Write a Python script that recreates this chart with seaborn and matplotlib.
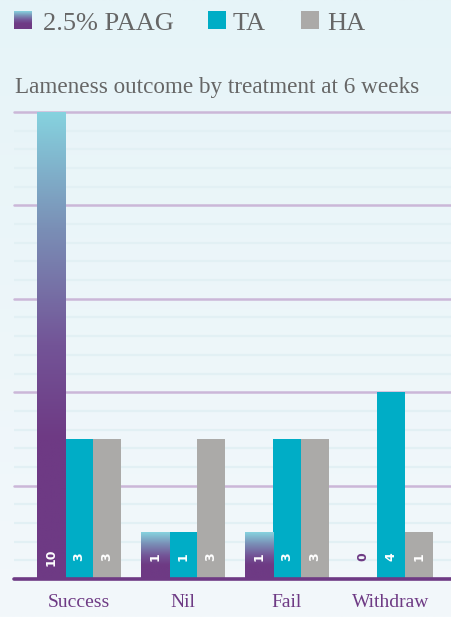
import numpy as np
import pandas as pd
import matplotlib
matplotlib.use('Agg')
import matplotlib.pyplot as plt
from matplotlib.colors import LinearSegmentedColormap
from matplotlib.patches import Rectangle
import seaborn as sns

# --- data ---
categories = ['Success', 'Nil', 'Fail', 'Withdraw']
treatments = ['2.5% PAAG', 'TA', 'HA']
paag = [10, 1, 1, 0]
ta = [3, 1, 3, 4]
ha = [3, 3, 3, 1]

df = pd.DataFrame({
    'outcome': categories * 3,
    'treatment': [t for t in treatments for _ in categories],
    'count': paag + ta + ha,
})

# --- colours ---
PURPLE = '#6e3a84'
CYAN = '#00adc6'
GREY = '#abaaa8'
TEXT_GREY = '#666666'
palette = {'2.5% PAAG': PURPLE, 'TA': CYAN, 'HA': GREY}
grad_cmap = LinearSegmentedColormap.from_list(
    'paag', [(0.0, PURPLE), (0.3, PURPLE), (0.5, '#735497'),
             (0.75, '#7a8fb6'), (1.0, '#86d3df')])

sns.set_theme(style='white')
plt.rcParams['font.family'] = ['Liberation Serif', 'DejaVu Serif']

W, H = 451, 617
fig = plt.figure(figsize=(W / 100, H / 100), dpi=100)

# background gradient
bg = fig.add_axes([0, 0, 1, 1], zorder=-10)
bg_grad = np.linspace(0, 1, 256).reshape(-1, 1)
bg_cmap = LinearSegmentedColormap.from_list('bg', ['#f3f8fb', '#e6f4f8'])
bg.imshow(bg_grad, cmap=bg_cmap, aspect='auto', origin='lower', extent=[0, 1, 0, 1])
bg.axis('off')

# main axes
ax = fig.add_axes([14 / W, 38 / H, 437 / W, 467 / H])
ax.patch.set_alpha(0)
sns.barplot(data=df, x='outcome', y='count', hue='treatment', palette=palette,
            width=0.81, saturation=1, legend=False, ax=ax, zorder=2,
            linewidth=0, edgecolor='none')

# gradient fill for PAAG bars
vgrad = np.linspace(0, 1, 256).reshape(-1, 1)
for bar in ax.containers[0]:
    h = bar.get_height()
    if h > 0:
        x0 = bar.get_x()
        ax.imshow(vgrad, cmap=grad_cmap, aspect='auto', origin='lower',
                  extent=[x0, x0 + bar.get_width(), 0, h], zorder=2)
    bar.set_visible(False)

# gridlines
for yv in np.arange(0.4, 10.01, 0.4):
    if abs(yv / 2 - round(yv / 2)) < 1e-6:
        continue
    ax.axhline(yv, color='#e2f0f4', lw=1.6, zorder=0)
for yv in [2, 4, 6, 8, 10]:
    ax.axhline(yv, color='#cbb7d8', lw=1.8, zorder=0, clip_on=False)
ax.axhline(0, color=PURPLE, lw=2.6, zorder=4, clip_on=False)

# value labels
for cont, vals in zip(ax.containers, [paag, ta, ha]):
    for bar, v in zip(cont, vals):
        cx = bar.get_x() + bar.get_width() / 2
        ax.text(cx, 0.47, str(v), rotation=90, ha='center', va='center',
                fontsize=9, fontweight='bold', family='DejaVu Sans',
                color=PURPLE if v == 0 else 'white', zorder=5)

ax.set_xlim(-0.625, 3.577)
ax.set_ylim(0, 10)
ax.set_yticks([])
ax.set_xlabel('')
ax.set_ylabel('')
ax.tick_params(axis='x', length=0, pad=11, labelsize=14, labelcolor=PURPLE)
sns.despine(ax=ax, left=True, bottom=True)

# legend drawn by hand
sq = 18
lg = fig.add_axes([14 / W, 1 - 29 / H, sq / W, sq / H])
lg.imshow(vgrad, cmap=grad_cmap, aspect='auto', origin='lower')
lg.axis('off')
for x, c in [(208, CYAN), (301, GREY)]:
    fig.add_artist(Rectangle((x / W, 1 - 29 / H), sq / W, sq / H,
                             transform=fig.transFigure, color=c, lw=0))
for x, label in [(43, '2.5% PAAG'), (233, 'TA'), (327, 'HA')]:
    fig.text(x / W, 1 - 30 / H, label, va='baseline', ha='left',
             fontsize=19, color=TEXT_GREY)

fig.text(15 / W, 1 - 93 / H, 'Lameness outcome by treatment at 6 weeks',
         va='baseline', ha='left', fontsize=16.7, color=TEXT_GREY)

fig.savefig('out.png', dpi=100)
